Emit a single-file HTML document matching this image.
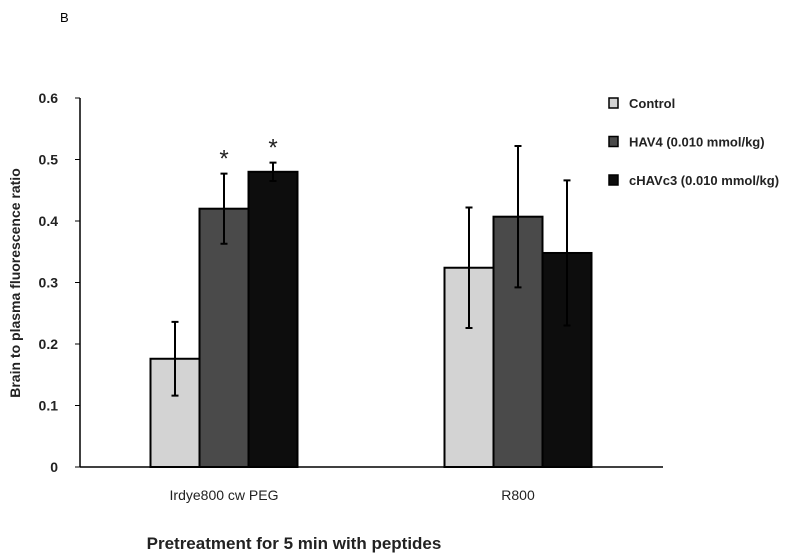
<!DOCTYPE html>
<html><head><meta charset="utf-8"><style>
body{margin:0;background:#fff;}
svg{display:block;font-family:"Liberation Sans",sans-serif;}
</style></head><body>
<svg id="chart" width="800" height="553">
<text x="60" y="22" font-size="13">B</text>
<g id="plot"></g>
</svg>
<script>
const categories=["Irdye800 cw PEG","R800"];
const seriesNames=["Control","HAV4 (0.010 mmol/kg)","cHAVc3 (0.010 mmol/kg)"];
const controlVals=[0.176,0.324];
const hav4Vals=[0.42,0.407];
const chavVals=[0.48,0.348];
const controlErr=[0.06,0.098];
const hav4Err=[0.057,0.115];
const chavErr=[0.015,0.118];
const sig=[[false,true,true],[false,false,false]];
const yTicks=[0,0.1,0.2,0.3,0.4,0.5,0.6];

const NS="http://www.w3.org/2000/svg";
const g=document.getElementById('plot');
const y0=467,pxPerUnit=615;
const y=v=>y0-v*pxPerUnit;
const groupCenter=i=>224+i*294;
const barW=49;
const fills=["#d3d3d3","#4a4a4a","#0d0d0d"];
function mk(t,a){const e=document.createElementNS(NS,t);for(const k in a)e.setAttribute(k,a[k]);g.appendChild(e);return e;}

let e=mk('line',{x1:80,y1:y(0.6),x2:80,y2:y0,stroke:'#000','stroke-width':1.5});


e=mk('line',{x1:80,y1:y0,x2:663,y2:y0,stroke:'#000','stroke-width':1.5});


yTicks.forEach(t=>{
  const l=mk('line',{x1:75,y1:y(t),x2:80,y2:y(t),stroke:'#000'});
  
  
  const tx=mk('text',{x:58,y:y(t)+5,'text-anchor':'end','font-size':14,'font-weight':'bold',fill:'#222'});
  tx.textContent=t===0?'0':t.toFixed(1);
  
  
});
const vals=[controlVals,hav4Vals,chavVals];
const errs=[controlErr,hav4Err,chavErr];
categories.forEach((c,i)=>{
  vals.forEach((s,j)=>{
    const x=groupCenter(i)+(j-1.5)*barW;
    const r=mk('rect',{x:x,y:y(s[i]),width:barW,height:y0-y(s[i]),fill:fills[j],stroke:'#000','stroke-width':2});
    
    
    const cx=x+barW/2,hi=y(s[i]+errs[j][i]),lo=y(s[i]-errs[j][i]);
    const eb=mk('path',{d:`M${cx},${hi}V${lo}M${cx-3.5},${hi}H${cx+3.5}M${cx-3.5},${lo}H${cx+3.5}`,stroke:'#000','stroke-width':2,fill:'none'});
    
    
    if(sig[i][j]){
      const st=mk('text',{x:cx,y:hi-7,'text-anchor':'middle','font-size':24,fill:'#222'});
      st.textContent='*';
      
      
    }
  });
  const lb=mk('text',{x:groupCenter(i),y:500,'text-anchor':'middle','font-size':14,fill:'#222'});
  lb.textContent=c;
  
  
});
seriesNames.forEach((n,j)=>{
  const yy=103+j*38.5;
  const r=mk('rect',{x:609,y:yy-5,width:9,height:10,fill:fills[j],stroke:'#000','stroke-width':1.5});
  
  
  const t=mk('text',{x:629,y:yy+5,'font-size':13,'font-weight':'bold',fill:'#222'});
  t.textContent=n;
  
  
});
e=mk('text',{x:0,y:0,transform:'translate(20,283) rotate(-90)','text-anchor':'middle','font-size':14,'font-weight':'bold',fill:'#222'});
e.textContent='Brain to plasma fluorescence ratio';


e=mk('text',{x:294,y:549,'text-anchor':'middle','font-size':17,'font-weight':'bold',fill:'#222'});
e.textContent='Pretreatment for 5 min with peptides';


</script>
</body></html>
